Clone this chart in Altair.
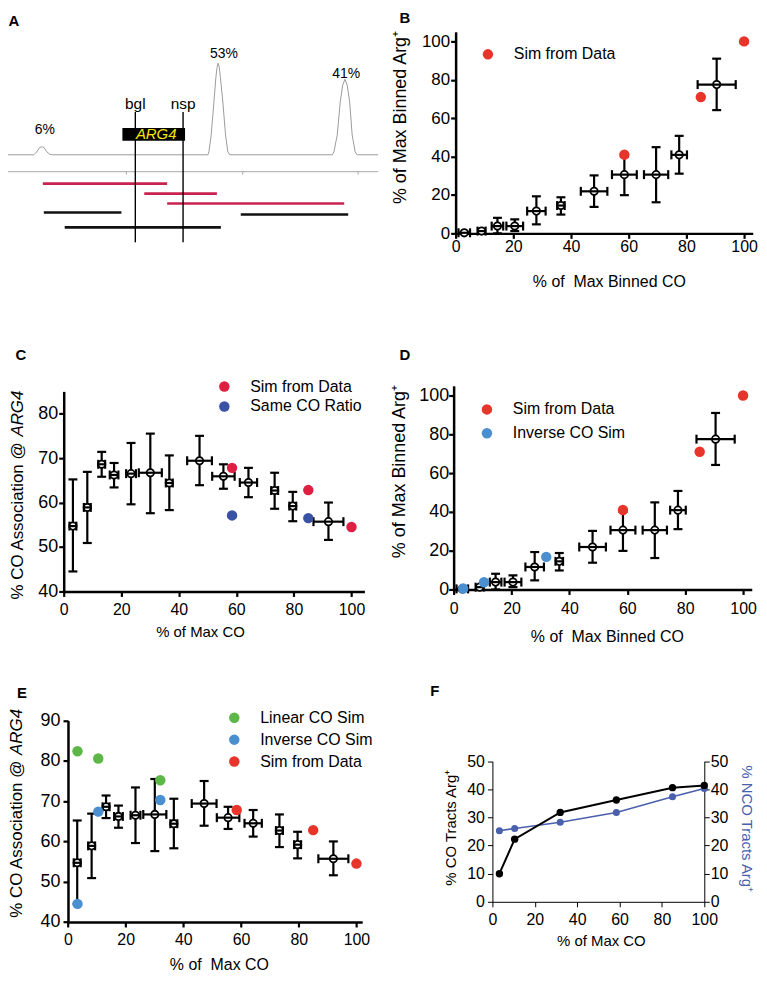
import altair as alt
import pandas as pd

FONT = "Liberation Sans"
M = 8             # page margin of the html page
W, H = 755, 966   # canvas size (chart coordinates)

# ---------------- Panel A (schematic, map units) ----------------
trace_x = [4, 34, 37, 40, 42, 44, 47, 50, 53,
           209, 210, 212.3, 215, 217, 218.2, 219.3, 220.4, 221.5, 224, 226.7, 229, 231,
           334, 335.7, 339, 342, 344.5, 346.7, 349, 351.5, 354, 357, 359, 380]
trace_h = [0, 0, 3, 7.5, 8, 7.5, 3, 0.5, 0,
           0, 3, 20, 53, 78, 88, 92, 88, 78, 53, 20, 3, 0,
           0, 3, 20, 53, 70, 76, 70, 53, 20, 3, 0, 0]
peak_label = ["6%", "53%", "41%"]
peak_label_x = [45, 225, 348]
peak_label_y = [25, 101, 81]
map_start, map_end, map_level = 4, 380, -17
map_tick_x = [127, 244, 360]
map_tick_end = -20
tract_start = [43, 145, 168, 44, 242, 65]
tract_end = [168, 218, 346, 122, 350, 222]
tract_level = [-29, -39, -49, -58, -60, -73]
tract_group = ["red", "red", "red", "black", "black", "black"]
site_name = ["bgl", "nsp"]
site_x = [136, 184]
site_top, site_bottom, site_label_y = 43, -88, 51
gene_name, gene_start, gene_end, gene_bottom, gene_top = "ARG4", 123, 186, 14, 27
gene_label_x, gene_label_y = 157, 20.5

# ---------------- Panels B & D (binned) ----------------
bin_x = [3, 9, 14.5, 20.5, 28, 36.5, 48, 58.5, 69.5, 77.5, 90.5]
bin_xerr = [2.0, 1.4, 2.0, 2.9, 3.2, 1.3, 4.6, 4.3, 4.2, 2.7, 6.6]
bin_y = [0.3, 1.2, 3.8, 3.8, 11.6, 14.5, 21.9, 30.6, 30.6, 40.9, 77.5]
bin_ylo = [0, 0.3, 0, 1.2, 4.7, 9.8, 13.8, 19.9, 16.2, 31.1, 64.2]
bin_yhi = [0.9, 2.0, 8.1, 7.3, 19.3, 18.8, 30.2, 40.0, 44.9, 50.8, 91.0]
sim_x = [58.5, 85, 100]
sim_binned_y = [41, 71, 100]
inv_x = [3.3, 10.5, 32]
inv_binned_y = [0.5, 3.7, 16.8]

# ---------------- Panels C & E (CO association) ----------------
assoc_x = [3.2, 8.2, 13.2, 17.5, 23.4, 30.1, 36.7, 47.2, 55.5, 64.2, 73.3, 79.6, 92.0]
assoc_xerr = [1.2, 1.2, 1.2, 1.5, 1.7, 4.0, 1.2, 4.3, 3.9, 3.0, 1.2, 1.2, 5.2]
assoc_y = [54.7, 58.9, 68.6, 66.2, 66.5, 66.7, 64.4, 69.4, 65.9, 64.5, 62.7, 59.2, 55.7]
assoc_ylo = [44.5, 50.9, 65.8, 63.4, 59.6, 57.6, 58.3, 63.9, 63.1, 61.2, 58.6, 55.8, 51.6]
assoc_yhi = [65.2, 66.9, 71.4, 68.9, 73.4, 75.5, 70.6, 75.0, 68.6, 67.8, 66.7, 62.4, 60.0]
sim_assoc_y = [67.8, 62.8, 54.5]
same_x = [58.5, 85]
same_assoc_y = [57.1, 56.5]
linear_assoc_y = [82.4, 80.6, 75.2]
inverse_assoc_y = [44.5, 67.4, 70.3]

# ---------------- Panel F ----------------
f_x = [3.3, 10.5, 32, 58.5, 85, 100]
co_arg = [10.0, 22.3, 31.8, 36.2, 40.6, 41.4]
nco_arg = [25.3, 26.1, 28.3, 31.8, 37.4, 40.3]

RED = "#e8352b"
C_RED = "#df1f42"
C_BLUE = "#3a52a3"
SKY = "#4a8fd0"
GREEN = "#5cb746"
F_BLUE = "#4a60ad"
CRIMSON = "#c8234f"
TICKS100 = [0, 20, 40, 60, 80, 100]


def lin(d0, d1, p0, p1):
    """Linear scale whose domain ends sit at page pixels p0 and p1."""
    return alt.Scale(domain=[d0, d1], range=[p0 - M, p1 - M], nice=False, zero=False)


def axis(orient, pos, values, title=None, tpos=None, thick=True, pad=2, fs=16,
         tfs=16, tcolor="black", tick=5):
    if orient == "bottom":
        off = (pos - M) - H
    elif orient == "left":
        off = -(pos - M)
    else:
        off = (pos - M) - W
    kw = dict(orient=orient, offset=off, values=values, grid=False, labelFlush=False,
              labelOverlap=False, labelFont=FONT, labelFontSize=fs, labelColor="black",
              labelPadding=pad, domainColor="black", domainWidth=2.5 if thick else 1,
              tickColor="black", tickWidth=2.2 if thick else 1, tickSize=tick)
    if title is None:
        kw["title"] = None
    else:
        if orient == "bottom":
            tx, ty, ang = tpos[0] - M, tpos[1] - pos, 0
        else:
            tx, ty = tpos[0] - pos, tpos[1] - M
            ang = 270 if orient == "left" else 90
        kw.update(title=title, titleX=tx, titleY=ty, titleAngle=ang, titleFont=FONT,
                  titleFontSize=tfs, titleFontWeight="normal", titleColor=tcolor,
                  titleAlign="center", titleBaseline="middle")
    return alt.Axis(**kw)


def err_layers(xs_, xerr, ys_, ylo, yhi, xs, ys, xaxis, yaxis):
    df = pd.DataFrame({"x": xs_, "y": ys_, "ylo": ylo, "yhi": yhi})
    df["xlo"] = df["x"] - pd.Series(xerr)
    df["xhi"] = df["x"] + pd.Series(xerr)
    b = alt.Chart(df)

    def X(f, ax=None):
        return alt.X(f, type="quantitative", scale=xs, axis=ax)

    def Y(f, ax=None):
        return alt.Y(f, type="quantitative", scale=ys, axis=ax)

    cap_h = dict(orient="horizontal", color="black", size=9, thickness=2.2, opacity=1)
    cap_v = dict(orient="vertical", color="black", size=9, thickness=2.2, opacity=1)
    return [
        b.mark_rule(color="black", strokeWidth=2.2).encode(x=X("x", xaxis), y=Y("ylo", yaxis), y2="yhi"),
        b.mark_tick(**cap_h).encode(x=X("x"), y=Y("ylo")),
        b.mark_tick(**cap_h).encode(x=X("x"), y=Y("yhi")),
        b.mark_point(shape="circle", fill="white", stroke="black", strokeWidth=1.8,
                     size=55, opacity=1, fillOpacity=1).encode(x=X("x"), y=Y("y")),
        b.mark_rule(color="black", strokeWidth=2.2).encode(x=X("xlo"), x2="xhi", y=Y("y")),
        b.mark_tick(**cap_v).encode(x=X("xlo"), y=Y("y")),
        b.mark_tick(**cap_v).encode(x=X("xhi"), y=Y("y")),
    ]


def legend(sx, sy, row_pad):
    return alt.Legend(orient="none", legendX=sx - 5.5 - M, legendY=sy - 8 - M, title=None,
                      labelFont=FONT, labelFontSize=16, labelColor="black",
                      symbolType="circle", symbolSize=110, symbolStrokeWidth=0,
                      symbolOpacity=1, padding=0, rowPadding=row_pad, labelOffset=18)


def dots(xv, yv, names, xs, ys, domain, colors, leg):
    df = pd.DataFrame({"x": xv, "y": yv, "series": names})
    return alt.Chart(df).mark_circle(size=110, opacity=1).encode(
        x=alt.X("x", type="quantitative", scale=xs, axis=None),
        y=alt.Y("y", type="quantitative", scale=ys, axis=None),
        color=alt.Color("series", type="nominal", scale=alt.Scale(domain=domain, range=colors),
                        legend=leg))


def letter(t, px, py):
    return alt.Chart(pd.DataFrame({"t": [t]})).mark_text(
        font=FONT, fontSize=15, fontWeight="bold", color="black", align="center",
        baseline="middle").encode(text="t", x=alt.value(px - M), y=alt.value(py - M))


def free_text(t, px, py, size, angle=0, align="center", style="normal", color="black"):
    return alt.Chart(pd.DataFrame({"t": [t]})).mark_text(
        font=FONT, fontSize=size, fontStyle=style, color=color, align=align,
        baseline="middle", angle=angle).encode(text="t", x=alt.value(px - M), y=alt.value(py - M))


layers = []

# ---------------- Panel A ----------------
xA = lin(8, 383, 8, 383)
yA = lin(-100, 100, 253, 53)


def XA(f):
    return alt.X(f, type="quantitative", scale=xA, axis=None)


def YA(f):
    return alt.Y(f, type="quantitative", scale=yA, axis=None)


layers.append(alt.Chart(pd.DataFrame({"x": trace_x, "h": trace_h})).mark_line(
    color="#9b9b9b", strokeWidth=1).encode(x=XA("x"), y=YA("h"), order="x:Q"))
layers.append(alt.Chart(pd.DataFrame({"a": [map_start], "b": [map_end], "y": [map_level]}))
              .mark_rule(color="#a8a8a8", strokeWidth=1).encode(x=XA("a"), x2="b", y=YA("y")))
layers.append(alt.Chart(pd.DataFrame({"x": map_tick_x, "a": [map_level] * 3, "b": [map_tick_end] * 3}))
              .mark_rule(color="#a8a8a8", strokeWidth=1).encode(x=XA("x"), y=YA("a"), y2="b"))
layers.append(alt.Chart(pd.DataFrame({"a": tract_start, "b": tract_end, "y": tract_level, "g": tract_group}))
              .mark_rule(strokeWidth=2.6).encode(
                  x=XA("a"), x2="b", y=YA("y"),
                  color=alt.Color("g:N", scale=alt.Scale(domain=["red", "black"], range=[CRIMSON, "#111111"]),
                                  legend=None)))
layers.append(alt.Chart(pd.DataFrame({"a": [gene_start], "b": [gene_end], "lo": [gene_bottom], "hi": [gene_top]}))
              .mark_rect(color="black").encode(x=XA("a"), x2="b", y=YA("lo"), y2="hi"))
layers.append(alt.Chart(pd.DataFrame({"x": site_x, "a": [site_top] * 2, "b": [site_bottom] * 2}))
              .mark_rule(color="black", strokeWidth=1.4).encode(x=XA("x"), y=YA("a"), y2="b"))
layers.append(alt.Chart(pd.DataFrame({"x": site_x, "y": [site_label_y] * 2, "t": site_name}))
              .mark_text(font=FONT, fontSize=15.5, color="black", baseline="middle")
              .encode(x=XA("x"), y=YA("y"), text="t"))
layers.append(alt.Chart(pd.DataFrame({"x": [gene_label_x], "y": [gene_label_y], "t": [gene_name]}))
              .mark_text(font=FONT, fontSize=15, fontStyle="italic", color="#f4e50a", baseline="middle")
              .encode(x=XA("x"), y=YA("y"), text="t"))
layers.append(alt.Chart(pd.DataFrame({"x": peak_label_x, "y": peak_label_y, "t": peak_label}))
              .mark_text(font=FONT, fontSize=14, color="black", baseline="middle")
              .encode(x=XA("x"), y=YA("y"), text="t"))

# ---------------- Panel B ----------------
xB = lin(0, 103, 458, 458 + 103 * 2.9)
yB = lin(0, 105, 232, 232 - 105 * 1.93)
layers += err_layers(bin_x, bin_xerr, bin_y, bin_ylo, bin_yhi, xB, yB,
                     axis("bottom", 232, TICKS100, "% of\u00a0 Max Binned CO", (612, 280), pad=0, tfs=16),
                     axis("left", 458, TICKS100, "% of Max Binned Arg\u207a", (403, 115), pad=1, fs=17, tfs=18))
layers.append(dots(sim_x, sim_binned_y, ["Sim from Data"] * 3, xB, yB,
                   ["Sim from Data"], [RED], legend(488, 52, 6)))

# ---------------- Panel C ----------------
xC = lin(0, 104.5, 64, 64 + 104.5 * 2.893)
yC = lin(40, 85, 592, 592 - 45 * 4.47)
layers += err_layers(assoc_x, assoc_xerr, assoc_y, assoc_ylo, assoc_yhi, xC, yC,
                     axis("bottom", 592, TICKS100, "% of Max CO", (201, 632), pad=5, tfs=15),
                     axis("left", 64, [40, 50, 60, 70, 80], None, pad=1, fs=18))
layers.append(dots(sim_x + same_x, sim_assoc_y + same_assoc_y,
                   ["Sim from Data"] * 3 + ["Same CO Ratio"] * 2, xC, yC,
                   ["Sim from Data", "Same CO Ratio"], [C_RED, C_BLUE], legend(223, 386, 4)))
layers.append(free_text("% CO Association @", 18, 600, 17, angle=270, align="left"))
layers.append(free_text("ARG4", 18, 600 - 9.629 * 17, 17, angle=270, align="left", style="italic"))

# ---------------- Panel D ----------------
xD = lin(0, 103, 456, 456 + 103 * 2.91)
yD = lin(0, 105, 590, 590 - 105 * 1.95)
layers += err_layers(bin_x, bin_xerr, bin_y, bin_ylo, bin_yhi, xD, yD,
                     axis("bottom", 590, TICKS100, "% of\u00a0 Max Binned CO", (610, 637), pad=6, tfs=16),
                     axis("left", 456, TICKS100, "% of Max Binned Arg\u207a", (402, 471), pad=0, fs=18, tfs=18))
layers.append(dots(sim_x + inv_x, sim_binned_y + inv_binned_y,
                   ["Sim from Data"] * 3 + ["Inverse CO Sim"] * 3, xD, yD,
                   ["Sim from Data", "Inverse CO Sim"], [RED, SKY], legend(487, 409, 8)))

# ---------------- Panel E ----------------
xE = lin(0, 102, 68.3, 68.3 + 102 * 2.9)
yE = lin(40, 90, 924.3, 924.3 - 50 * 4.05)
layers += err_layers(assoc_x, assoc_xerr, assoc_y, assoc_ylo, assoc_yhi, xE, yE,
                     axis("bottom", 924.3, TICKS100, "% of\u00a0 Max CO", (220, 967), pad=5, tfs=16),
                     axis("left", 68.3, [40, 50, 60, 70, 80, 90], None, pad=3, fs=18))
layers.append(dots(inv_x + inv_x + sim_x, linear_assoc_y + inverse_assoc_y + sim_assoc_y,
                   ["Linear CO Sim"] * 3 + ["Inverse CO Sim"] * 3 + ["Sim from Data"] * 3, xE, yE,
                   ["Linear CO Sim", "Inverse CO Sim", "Sim from Data"], [GREEN, SKY, RED],
                   legend(233, 719, 6)))
layers.append(free_text("% CO Association @", 17, 920, 17, angle=270, align="left"))
layers.append(free_text("ARG4", 17, 920 - 9.629 * 17, 17, angle=270, align="left", style="italic"))

# ---------------- Panel F ----------------
xF = lin(0, 100, 495, 708)
yF = lin(0, 50, 904, 762.7)
dfF = pd.DataFrame({"x": f_x, "co": co_arg, "nco": nco_arg})
fb = alt.Chart(dfF)
layers.append(fb.mark_line(color=F_BLUE, strokeWidth=1.6).encode(
    x=alt.X("x:Q", scale=xF, axis=None),
    y=alt.Y("nco:Q", scale=yF, axis=axis("right", 708, [0, 10, 20, 30, 40, 50], "% NCO Tracts Arg\u207a",
                                         (750, 830), thick=False, pad=1, tfs=15, tcolor=F_BLUE))))
layers.append(fb.mark_circle(color=F_BLUE, size=50, opacity=1).encode(
    x=alt.X("x:Q", scale=xF, axis=None), y=alt.Y("nco:Q", scale=yF, axis=None)))
layers.append(fb.mark_line(color="black", strokeWidth=2).encode(
    x=alt.X("x:Q", scale=xF, axis=axis("bottom", 904, TICKS100, "% of Max CO", (604, 943),
                                       thick=False, pad=5, tfs=15)),
    y=alt.Y("co:Q", scale=yF, axis=axis("left", 495, [0, 10, 20, 30, 40, 50], "% CO Tracts Arg\u207a",
                                        (453, 829), thick=False, pad=3, tfs=15))))
layers.append(fb.mark_circle(color="black", size=55, opacity=1).encode(
    x=alt.X("x:Q", scale=xF, axis=None), y=alt.Y("co:Q", scale=yF, axis=None)))

# ---------------- panel letters ----------------
for t, px, py in [("A", 14, 19), ("B", 407, 16), ("C", 21, 354), ("D", 407, 354),
                  ("E", 22, 694), ("F", 437, 692)]:
    layers.append(letter(t, px, py))

chart = (alt.layer(*layers)
         .resolve_scale(x="independent", y="independent", color="independent")
         .resolve_axis(x="independent", y="independent")
         .resolve_legend(color="independent")
         .properties(width=W, height=H, padding=0, autosize=alt.AutoSizeParams(type="none"))
         .configure_view(stroke=None))

chart.save("out.html", embed_options={"renderer": "svg", "actions": False})
